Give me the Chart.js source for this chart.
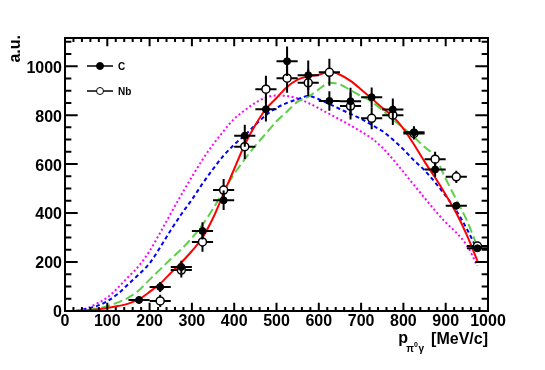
<!DOCTYPE html>
<html>
<head>
<meta charset="utf-8">
<script src="https://cdn.jsdelivr.net/npm/chart.js@4.4.0/dist/chart.umd.min.js"></script>
<style>
  html, body { margin: 0; padding: 0; background: #fff; }
</style>
</head>
<body>
<canvas id="chart" width="545" height="370"></canvas>
<script>
// measured points, 50 MeV/c bins
const binX = [175, 225, 275, 325, 375, 425, 475, 525, 575, 625, 675, 725, 775, 825, 875, 925, 975];
const binHalfWidth = 25;
const cValues = [45, 98, 180, 327, 452, 716, 824, 1020, 963, 858, 857, 873, 823, 730, 578, 430, 256];
const cErrors = [15, 20, 25, 35, 40, 45, 50, 60, 60, 40, 55, 40, 45, 25, 30, 15, 10];
const nbValues = [null, 41, 167, 282, 494, 671, 906, 951, 932, 975, 837, 787, 800, 725, 620, 548, 265];
const nbErrors = [0, 25, 30, 40, 45, 50, 55, 60, 55, 55, 55, 45, 40, 25, 30, 25, 15];

// model curves
const curveX = [25, 50, 75, 100, 125, 150, 175, 200, 225, 250, 275, 300, 325, 350, 375, 400, 425, 450, 475, 500,
                525, 550, 575, 600, 625, 650, 675, 700, 725, 750, 775, 800, 825, 850, 875, 900, 925, 950, 975];
const redCurve = [0, 2, 6, 12, 20, 30, 48, 78, 112, 155, 198, 245, 300, 380, 480, 580, 680, 760, 825, 870,
                  915, 945, 958, 965, 978, 965, 940, 905, 868, 830, 795, 745, 680, 610, 545, 475, 400, 310, 205];
const greenCurve = [0, 4, 10, 20, 35, 55, 85, 128, 170, 212, 252, 298, 352, 418, 490, 560, 620, 675, 725, 775,
                    815, 855, 875, 905, 932, 925, 902, 878, 855, 820, 782, 748, 711, 670, 630, 540, 455, 370, 262];
const blueCurve = [0, 8, 20, 40, 70, 110, 150, 195, 260, 330, 395, 455, 520, 580, 635, 680, 718, 760, 800, 830,
                   850, 865, 878, 865, 845, 825, 805, 785, 760, 735, 700, 660, 615, 575, 525, 470, 410, 335, 250];
const magentaCurve = [0, 10, 30, 55, 95, 140, 185, 245, 320, 398, 475, 548, 618, 680, 735, 785, 820, 850, 872, 880,
                      878, 868, 850, 828, 805, 782, 758, 733, 705, 668, 620, 568, 515, 462, 410, 362, 320, 268, 185];

const xTicks = [0, 100, 200, 300, 400, 500, 600, 700, 800, 900, 1000];
const yTicks = [0, 200, 400, 600, 800, 1000];

const textFont = 'bold 16px "Liberation Sans", Arial, sans-serif';

function pairs(xs, ys) {
    return xs.map((x, i) => ({ x: x, y: ys[i] }));
}

function curve(ys, color, dash) {
    return {
        data: pairs(curveX, ys),
        showLine: true,
        borderColor: color,
        borderWidth: 2,
        borderDash: dash,
        pointRadius: 0,
        cubicInterpolationMode: 'monotone',
        order: 2
    };
}

const rootStyle = {
    id: 'rootStyle',
    beforeDatasetDraw(chart, args) {
        const ds = chart.data.datasets[args.index];
        if (!ds.errY) return;
        const ctx = chart.ctx, xs = chart.scales.x, ys = chart.scales.y;
        ctx.save();
        ctx.strokeStyle = '#000';
        ctx.lineWidth = 2;
        ds.data.forEach((p, i) => {
            if (p.y === null) return;
            const px = xs.getPixelForValue(p.x), py = ys.getPixelForValue(p.y);
            ctx.beginPath();
            ctx.moveTo(xs.getPixelForValue(p.x - binHalfWidth), py);
            ctx.lineTo(xs.getPixelForValue(p.x + binHalfWidth), py);
            ctx.moveTo(px, ys.getPixelForValue(p.y - ds.errY[i]));
            ctx.lineTo(px, ys.getPixelForValue(p.y + ds.errY[i]));
            ctx.stroke();
        });
        ctx.restore();
    },
    afterDraw(chart) {
        const ctx = chart.ctx, a = chart.chartArea;
        const xs = chart.scales.x, ys = chart.scales.y;
        ctx.save();
        ctx.strokeStyle = '#000';
        ctx.lineWidth = 2;
        ctx.strokeRect(a.left, a.top, a.right - a.left, a.bottom - a.top);

        // inward ticks on all four sides
        const xMajor = 0.03 * (a.bottom - a.top), yMajor = 0.03 * (a.right - a.left);
        ctx.beginPath();
        for (let v = 0; v <= 1000; v += 20) {
            const px = xs.getPixelForValue(v);
            const len = v % 100 === 0 ? xMajor : xMajor / 2;
            ctx.moveTo(px, a.bottom); ctx.lineTo(px, a.bottom - len);
            ctx.moveTo(px, a.top); ctx.lineTo(px, a.top + len);
        }
        for (let v = 0; v <= 1100; v += 50) {
            const py = ys.getPixelForValue(v);
            const len = v % 200 === 0 ? yMajor : yMajor / 2;
            ctx.moveTo(a.left, py); ctx.lineTo(a.left + len, py);
            ctx.moveTo(a.right, py); ctx.lineTo(a.right - len, py);
        }
        ctx.stroke();

        // tick labels
        ctx.fillStyle = '#000';
        ctx.font = textFont;
        ctx.textAlign = 'center';
        ctx.textBaseline = 'alphabetic';
        xTicks.forEach(v => ctx.fillText(String(v), xs.getPixelForValue(v), a.bottom + 15));
        ctx.textAlign = 'right';
        ctx.textBaseline = 'middle';
        yTicks.forEach(v => ctx.fillText(String(v), a.left - 3, ys.getPixelForValue(v) + 2));

        // axis titles
        ctx.textAlign = 'right';
        ctx.textBaseline = 'alphabetic';
        ctx.fillText('[MeV/c]', a.right, a.bottom + 33);
        ctx.font = 'bold 10px "Liberation Sans", Arial, sans-serif';
        ctx.fillText('\u03c0', 414, a.bottom + 41);
        ctx.font = 'bold 7px "Liberation Sans", Arial, sans-serif';
        ctx.fillText('0', 418, a.bottom + 36);
        ctx.font = 'bold 10px "Liberation Sans", Arial, sans-serif';
        ctx.fillText('\u03b3', 424, a.bottom + 41);
        ctx.font = textFont;
        ctx.fillText('p', 408, a.bottom + 32);

        ctx.save();
        ctx.translate(20, a.top - 3);
        ctx.rotate(-Math.PI / 2);
        ctx.textAlign = 'right';
        ctx.fillText('a.u.', 0, 0);
        ctx.restore();

        // legend
        const legend = [{ label: 'C', y: 66, filled: true }, { label: 'Nb', y: 91, filled: false }];
        ctx.font = 'bold 10px "Liberation Sans", Arial, sans-serif';
        ctx.textAlign = 'left';
        ctx.textBaseline = 'middle';
        legend.forEach(e => {
            ctx.lineWidth = 1.5;
            ctx.beginPath();
            ctx.moveTo(87, e.y); ctx.lineTo(113, e.y);
            ctx.stroke();
            ctx.beginPath();
            ctx.arc(100, e.y, 3.5, 0, Math.PI * 2);
            ctx.fillStyle = e.filled ? '#000' : '#fff';
            ctx.fill();
            ctx.lineWidth = 1;
            ctx.stroke();
            ctx.fillStyle = '#000';
            ctx.fillText(e.label, 118, e.y + 1);
        });
        ctx.restore();
    }
};

new Chart(document.getElementById('chart'), {
    type: 'scatter',
    data: {
        datasets: [
            {
                data: pairs(binX, cValues),
                errY: cErrors,
                pointStyle: 'circle',
                pointRadius: 3.5,
                pointBackgroundColor: '#000',
                pointBorderColor: '#000',
                pointBorderWidth: 1,
                order: 0
            },
            {
                data: pairs(binX, nbValues),
                errY: nbErrors,
                pointStyle: 'circle',
                pointRadius: 4,
                pointBackgroundColor: '#fff',
                pointBorderColor: '#000',
                pointBorderWidth: 1.5,
                order: 1
            },
            curve(redCurve, '#ff0000', []),
            curve(greenCurve, '#5fce4a', [9, 4]),
            curve(blueCurve, '#0000ff', [4, 3]),
            curve(magentaCurve, '#ff00ff', [2, 2.5])
        ]
    },
    options: {
        responsive: false,
        animation: false,
        layout: { padding: { left: 65, right: 57, top: 38, bottom: 59 } },
        plugins: { legend: { display: false }, tooltip: { enabled: false } },
        scales: {
            x: { type: 'linear', min: 0, max: 1000, display: false },
            y: { type: 'linear', min: 0, max: 1115, display: false }
        }
    },
    plugins: [rootStyle]
});
</script>
</body>
</html>
